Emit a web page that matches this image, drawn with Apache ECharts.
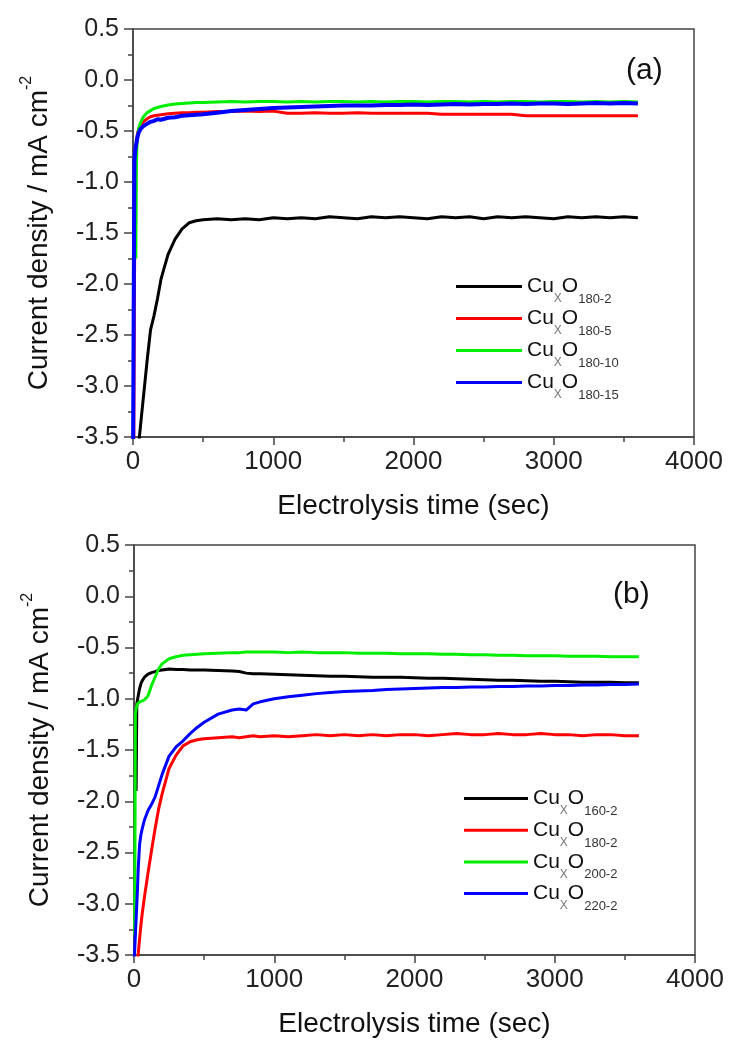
<!DOCTYPE html>
<html>
<head>
<meta charset="utf-8">
<script src="https://cdn.jsdelivr.net/npm/echarts@6/dist/echarts.min.js"></script>
<style>
html,body{margin:0;padding:0;background:#fff;}
#c{width:730px;height:1041px;}
</style>
</head>
<body>
<div id="c"></div>
<script>
// ---------- data ----------
const tA = [0,5,10,15,20,25,30,40,50,60,75,100,125,150,175,200,250,300,350,400,450,500,
  600,700,800,900,1000,1100,1200,1300,1400,1500,1600,1700,1800,1900,2000,2100,2200,2300,2400,2500,2600,2700,2800,2900,3000,3100,3200,3300,3400,3500,3600];

const a_180_2 = [null,null,null,null,null,null,-3.70,-3.57,-3.44,-3.30,-3.10,-2.76,-2.45,-2.31,-2.14,-1.95,-1.71,-1.56,-1.46,-1.40,-1.38,-1.37,
  -1.36,-1.37,-1.36,-1.37,-1.35,-1.36,-1.35,-1.36,-1.34,-1.35,-1.36,-1.34,-1.35,-1.34,-1.35,-1.36,-1.34,-1.35,-1.34,-1.36,-1.34,-1.35,-1.34,-1.35,-1.36,-1.34,-1.35,-1.34,-1.35,-1.34,-1.35];
const a_180_5 = [null,-3.80,-2.10,-1.05,-0.78,-0.62,-0.54,-0.48,-0.45,-0.43,-0.41,-0.38,-0.36,-0.35,-0.345,-0.34,-0.33,-0.325,-0.32,-0.32,-0.315,-0.315,
  -0.31,-0.31,-0.305,-0.31,-0.305,-0.325,-0.325,-0.32,-0.325,-0.325,-0.32,-0.325,-0.325,-0.325,-0.325,-0.325,-0.335,-0.335,-0.335,-0.335,-0.335,-0.335,-0.35,-0.35,-0.35,-0.35,-0.35,-0.35,-0.35,-0.35,-0.35];
const a_180_10 = [null,null,null,null,-1.75,-0.80,-0.58,-0.48,-0.43,-0.40,-0.36,-0.32,-0.30,-0.28,-0.27,-0.26,-0.245,-0.235,-0.23,-0.225,-0.22,-0.22,
  -0.215,-0.21,-0.215,-0.21,-0.21,-0.215,-0.21,-0.215,-0.21,-0.21,-0.215,-0.21,-0.215,-0.21,-0.21,-0.215,-0.21,-0.21,-0.215,-0.21,-0.215,-0.21,-0.21,-0.215,-0.21,-0.21,-0.215,-0.21,-0.215,-0.21,-0.215];
const a_180_15 = [-3.80,-2.20,-0.80,-0.70,-0.65,-0.61,-0.57,-0.52,-0.49,-0.47,-0.45,-0.43,-0.41,-0.40,-0.385,-0.39,-0.37,-0.365,-0.35,-0.345,-0.34,-0.335,
  -0.32,-0.305,-0.295,-0.285,-0.275,-0.27,-0.265,-0.26,-0.255,-0.25,-0.25,-0.25,-0.245,-0.245,-0.24,-0.245,-0.24,-0.235,-0.24,-0.235,-0.235,-0.23,-0.235,-0.23,-0.23,-0.235,-0.23,-0.225,-0.23,-0.225,-0.23];

const tB = [0,5,10,15,20,25,30,40,50,60,75,100,125,150,175,200,250,300,350,400,450,500,
  600,700,750,800,850,900,1000,1100,1200,1300,1400,1500,1600,1700,1800,1900,2000,2100,2200,2300,2400,2500,2600,2700,2800,2900,3000,3100,3200,3300,3400,3500,3600];

const b_160_2 = [null,null,null,-1.90,-1.05,-1.01,-0.97,-0.90,-0.85,-0.82,-0.79,-0.76,-0.745,-0.735,-0.725,-0.72,-0.71,-0.715,-0.715,-0.72,-0.72,-0.72,
  -0.725,-0.73,-0.735,-0.75,-0.755,-0.755,
  -0.76,-0.765,-0.77,-0.775,-0.78,-0.78,-0.785,-0.79,-0.79,-0.79,-0.795,-0.80,-0.80,-0.805,-0.81,-0.815,-0.82,-0.82,-0.825,-0.83,-0.83,-0.835,-0.84,-0.84,-0.84,-0.845,-0.845];
const b_180_2 = [null,null,null,null,-3.63,-3.56,-3.49,-3.34,-3.20,-3.08,-2.93,-2.70,-2.48,-2.27,-2.08,-1.93,-1.68,-1.55,-1.46,-1.42,-1.40,-1.39,
  -1.38,-1.37,-1.38,-1.37,-1.36,-1.37,
  -1.36,-1.37,-1.36,-1.35,-1.36,-1.35,-1.36,-1.35,-1.36,-1.35,-1.35,-1.36,-1.35,-1.34,-1.35,-1.35,-1.34,-1.35,-1.35,-1.34,-1.35,-1.35,-1.36,-1.35,-1.35,-1.36,-1.36];
const b_200_2 = [null,-3.30,-1.15,-1.10,-1.07,-1.05,-1.04,-1.03,-1.02,-1.02,-1.01,-0.97,-0.87,-0.79,-0.71,-0.66,-0.61,-0.59,-0.575,-0.57,-0.565,-0.56,
  -0.555,-0.55,-0.55,-0.545,-0.545,-0.545,
  -0.545,-0.55,-0.545,-0.55,-0.55,-0.55,-0.555,-0.555,-0.555,-0.56,-0.56,-0.56,-0.565,-0.565,-0.57,-0.57,-0.575,-0.575,-0.58,-0.58,-0.58,-0.585,-0.585,-0.585,-0.59,-0.59,-0.59];
const b_220_2 = [-3.60,-3.45,-3.30,-3.15,-3.00,-2.85,-2.66,-2.42,-2.32,-2.26,-2.18,-2.09,-2.03,-1.96,-1.85,-1.74,-1.56,-1.47,-1.41,-1.34,-1.28,-1.23,
  -1.15,-1.11,-1.10,-1.11,-1.05,-1.03,
  -1.00,-0.98,-0.965,-0.95,-0.94,-0.93,-0.925,-0.92,-0.91,-0.905,-0.90,-0.895,-0.89,-0.89,-0.885,-0.885,-0.88,-0.88,-0.875,-0.875,-0.87,-0.87,-0.865,-0.865,-0.86,-0.86,-0.855];

const subsA = ['180-2','180-5','180-10','180-15'];
const subsB = ['160-2','180-2','200-2','220-2'];
const colors = ['#000000','#ff0000','#00ee00','#0000ff'];
const xTicks = [0,1000,2000,3000,4000];
const yTicks = [0.5,0.0,-0.5,-1.0,-1.5,-2.0,-2.5,-3.0,-3.5];

// ---------- chart ----------
const FF = '"Liberation Sans", Arial, Helvetica, sans-serif';
const pairs = (t, v) => t.map((x, i) => [x, v[i]]);
const chart = echarts.init(document.getElementById('c'), null, {renderer: 'canvas'});

const grids = [
  {left: 133, top: 29, right: 36, height: 408},
  {left: 134, top: 545, right: 35, height: 410}
];

function xAxisCfg(gi) {
  return {
    gridIndex: gi, type: 'value', min: xTicks[0], max: xTicks[xTicks.length-1], interval: 1000,
    name: 'Electrolysis time (sec)', nameLocation: 'middle', nameGap: 55,
    nameTextStyle: {fontSize: 28, fontFamily: FF, color: '#111'},
    axisLine: {show: true, onZero: false, lineStyle: {color: '#444', width: 1.5}},
    axisTick: {show: true, inside: false, length: 8, lineStyle: {color: '#444', width: 1.5}},
    minorTick: {show: true, splitNumber: 2, length: 5, lineStyle: {color: '#444', width: 1.5}},
    axisLabel: {fontSize: 26, fontFamily: FF, color: '#222', margin: 12, formatter: v => String(v)},
    splitLine: {show: false}
  };
}
function yAxisCfg(gi) {
  return {
    gridIndex: gi, type: 'value', min: -3.5, max: 0.5, interval: 0.5,
    name: 'Current density / mA cm{sup|-2}', nameLocation: 'middle', nameGap: 80,
    nameTextStyle: {fontSize: 28, fontFamily: FF, color: '#111',
      rich: {sup: {fontSize: 16, fontFamily: FF, color: '#111', lineHeight: 28, padding: [0,0,24,0]}}},
    axisLine: {show: true, onZero: false, lineStyle: {color: '#444', width: 1.5}},
    axisTick: {show: true, inside: false, length: 9, lineStyle: {color: '#444', width: 1.5}},
    minorTick: {show: true, splitNumber: 2, length: 5, lineStyle: {color: '#444', width: 1.5}},
    axisLabel: {fontSize: 25, fontFamily: FF, color: '#222', margin: 14,
      formatter: v => v.toFixed(1)},
    splitLine: {show: false}
  };
}

const legendRich = {
  n: {fontSize: 21, fontFamily: FF, color: '#111', lineHeight: 20},
  x: {fontSize: 12, fontFamily: FF, color: '#777', lineHeight: 20, padding: [25,0,0,0]},
  s: {fontSize: 13, fontFamily: FF, color: '#333', lineHeight: 20, padding: [26,0,0,0]}
};
const fmt = name => '{n|Cu}{x|X}{n|O}{s|' + name.split(':')[1] + '}';

const series = [];
const valsA = [a_180_2, a_180_5, a_180_10, a_180_15];
const valsB = [b_160_2, b_180_2, b_200_2, b_220_2];
valsA.forEach((v, i) => series.push({
  name: 'a:' + subsA[i], type: 'line', xAxisIndex: 0, yAxisIndex: 0,
  data: pairs(tA, v), symbol: 'none', showSymbol: false, clip: true,
  lineStyle: {color: colors[i], width: i === 3 ? 4 : 3}, itemStyle: {color: colors[i]}
}));
valsB.forEach((v, i) => series.push({
  name: 'b:' + subsB[i], type: 'line', xAxisIndex: 1, yAxisIndex: 1,
  data: pairs(tB, v), symbol: 'none', showSymbol: false, clip: true,
  lineStyle: {color: colors[i], width: 3}, itemStyle: {color: colors[i]}
}));

const option = {
  backgroundColor: '#fff',
  animation: false,
  title: [
    {text: '(a)', left: 626, top: 56, padding: 0, textStyle: {fontSize: 30, fontWeight: 'normal', fontFamily: FF, color: '#111'}},
    {text: '(b)', left: 613, top: 580, padding: 0, textStyle: {fontSize: 30, fontWeight: 'normal', fontFamily: FF, color: '#111'}}
  ],
  grid: grids.map(g => Object.assign({show: true, borderColor: '#444', borderWidth: 1.5, backgroundColor: 'transparent'}, g)),
  xAxis: [xAxisCfg(0), xAxisCfg(1)],
  yAxis: [yAxisCfg(0), yAxisCfg(1)],
  legend: [
    {orient: 'vertical', left: 456, top: 267, padding: 0, itemGap: -7, itemWidth: 66, itemHeight: 3, icon: 'rect',
     data: subsA.map(s => 'a:' + s), formatter: fmt, textStyle: {rich: legendRich}, selectedMode: false},
    {orient: 'vertical', left: 464, top: 779, padding: 0, itemGap: -7.3, itemWidth: 64, itemHeight: 3, icon: 'rect',
     data: subsB.map(s => 'b:' + s), formatter: fmt, textStyle: {rich: legendRich}, selectedMode: false}
  ],
  series: series
};
chart.setOption(option);
</script>
</body>
</html>
